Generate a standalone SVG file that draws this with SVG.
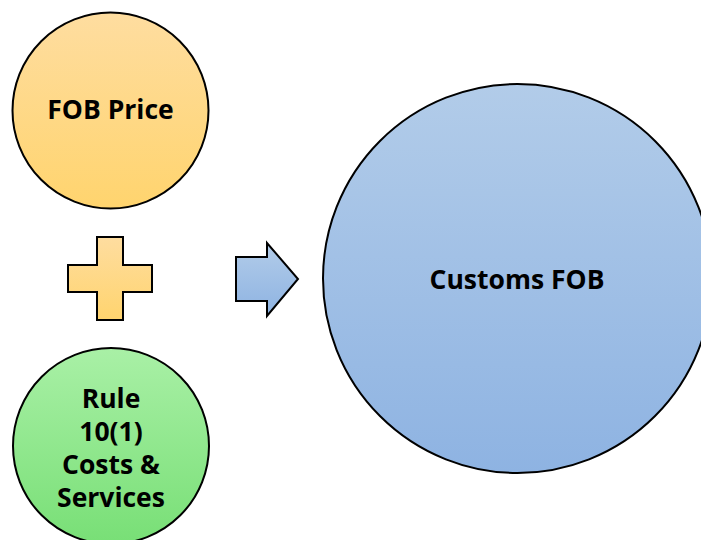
<svg xmlns="http://www.w3.org/2000/svg" width="701" height="540" viewBox="0 0 701 540">
  <defs>
    <linearGradient id="gOrange" x1="0" y1="0" x2="0" y2="1">
      <stop offset="0" stop-color="#FEDDA0"/>
      <stop offset="1" stop-color="#FFD46E"/>
    </linearGradient>
    <linearGradient id="gGreen" x1="0" y1="0" x2="0" y2="1">
      <stop offset="0" stop-color="#A9F0A6"/>
      <stop offset="1" stop-color="#78DF76"/>
    </linearGradient>
    <linearGradient id="gBlue" x1="0" y1="0" x2="0" y2="1">
      <stop offset="0" stop-color="#B2CCE9"/>
      <stop offset="1" stop-color="#8EB3E2"/>
    </linearGradient>
  </defs>
  <style>
    .shape { stroke: #000; stroke-width: 2; }
    .label { font-family: "Open Sans", "Noto Sans", "DejaVu Sans", sans-serif; font-weight: bold; font-size: 26.5px; fill: #000; text-anchor: middle; }
  </style>

  <g id="fob-price">
    <circle class="shape" cx="110.5" cy="110.5" r="98" fill="url(#gOrange)"/>
    <text class="label" x="110.5" y="119">FOB Price</text>
  </g>

  <g id="rule-costs">
    <circle class="shape" cx="111" cy="446" r="98" fill="url(#gGreen)"/>
    <text class="label" x="111" y="408">Rule</text>
    <text class="label" x="111" y="441">10(1)</text>
    <text class="label" x="111" y="474">Costs &amp;</text>
    <text class="label" x="111" y="507">Services</text>
  </g>

  <g id="customs-fob">
    <circle class="shape" cx="517.5" cy="278.5" r="194.5" fill="url(#gBlue)"/>
    <text class="label" x="517" y="289">Customs FOB</text>
  </g>

  <g id="connectors">
    <path class="shape" fill="url(#gOrange)" d="M97,237 H123 V265 H152 V292 H123 V320 H97 V292 H68 V265 H97 Z"/>
    <path class="shape" fill="url(#gBlue)" d="M236,257 H267 V243 L298,279 L267,316 V301 H236 Z"/>
  </g>
</svg>
